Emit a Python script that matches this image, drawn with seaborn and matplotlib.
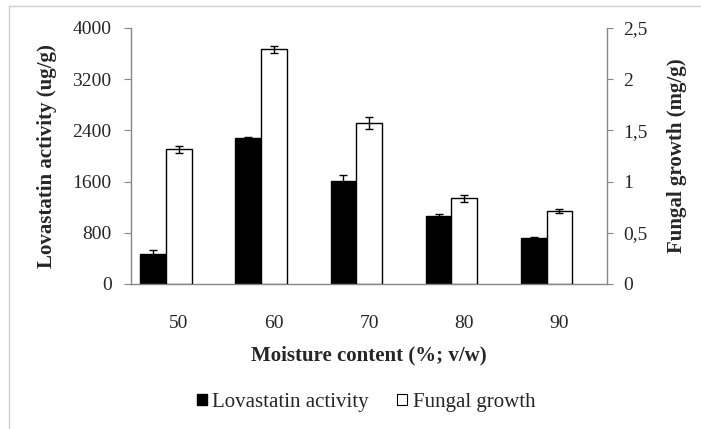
import pandas as pd
import seaborn as sns
import matplotlib.pyplot as plt
from matplotlib.lines import Line2D
from matplotlib.patches import Patch
from matplotlib.ticker import FuncFormatter

# values
moisture = ["50", "60", "70", "80", "90"]
lovastatin = [465, 2280, 1605, 1060, 720]
lovastatin_err = [70, 15, 90, 40, 20]
fungal = [1.315, 2.29, 1.57, 0.835, 0.71]
fungal_err = [0.035, 0.035, 0.06, 0.03, 0.02]
series = ["Lovastatin activity", "Fungal growth", "pad"]

sns.set_style("white")
plt.rcParams["font.family"] = ["Liberation Serif", "DejaVu Serif"]
axis_grey = "#868686"


def frame(vals, name):
    # every hue level present so the dodge slots stay fixed; others are zero
    rows = []
    for s in series:
        for m, v in zip(moisture, vals):
            rows.append({"moisture": m, "series": s, "value": v if s == name else 0.0})
    return pd.DataFrame(rows)


fig = plt.figure(figsize=(7.01, 4.29), dpi=100)
ax = fig.add_axes([0.187, 0.338, 0.679, 0.597])
ax2 = ax.twinx()

sns.barplot(data=frame(lovastatin, series[0]), x="moisture", y="value", hue="series",
            hue_order=series, order=moisture, palette=["black", "white", "white"],
            width=0.81, errorbar=None, edgecolor="black", linewidth=1.0, legend=False, ax=ax)
sns.barplot(data=frame(fungal, series[1]), x="moisture", y="value", hue="series",
            hue_order=series, order=moisture, palette=["black", "white", "white"],
            width=0.81, errorbar=None, edgecolor="black", linewidth=1.0, legend=False, ax=ax2)


def add_err(axis, vals, errs):
    bars = []
    for p in axis.patches:
        if p.get_height() > 0:
            bars.append(p)
        else:
            p.set_visible(False)
    bars = sorted(bars, key=lambda p: p.get_x())
    xs = [p.get_x() + p.get_width() / 2 for p in bars]
    axis.errorbar(xs, vals, yerr=errs, fmt="none", ecolor="black",
                  elinewidth=1.0, capsize=3, capthick=1.0, zorder=5)


add_err(ax, lovastatin, lovastatin_err)
add_err(ax2, fungal, fungal_err)

ax.set_xlim(-0.5, 4.5)
ax.set_ylim(0, 4000)
ax.set_yticks([0, 800, 1600, 2400, 3200, 4000])
ax2.set_ylim(0, 2.5)
ax2.set_yticks([0, 0.5, 1, 1.5, 2, 2.5])
ax2.yaxis.set_major_formatter(FuncFormatter(lambda v, p: ("%g" % v).replace(".", ",")))

ax.set_xticks(range(5))
ax.set_xticklabels(moisture)
ax.set_xticks([i - 0.5 for i in range(6)], minor=True)
ax.tick_params(axis="x", which="major", length=0, labelsize=14, pad=22.5)
ax.tick_params(axis="x", which="minor", length=4.5, color=axis_grey, direction="out")
ax.tick_params(axis="y", length=5, color=axis_grey, direction="out", labelsize=14, left=True, pad=9)
ax2.tick_params(axis="y", length=4.5, color=axis_grey, direction="out", labelsize=14, right=True, pad=7)

for a in (ax, ax2):
    a.spines["top"].set_visible(False)
    for s in ("left", "right", "bottom"):
        a.spines[s].set_color(axis_grey)
        a.spines[s].set_linewidth(1.0)
ax.spines["right"].set_visible(False)
ax2.spines["left"].set_visible(False)
ax2.spines["bottom"].set_visible(False)

ax.set_xlabel("Moisture content (%; v/w)", fontsize=15, fontweight="bold", labelpad=9.5)
ax.set_ylabel("Lovastatin activity (ug/g)", fontsize=15, fontweight="bold", labelpad=11)
ax2.set_ylabel("Fungal growth (mg/g)", fontsize=15, fontweight="bold", labelpad=14)

handles = [Patch(facecolor="black", edgecolor="black", label=series[0]),
           Patch(facecolor="white", edgecolor="black", linewidth=0.8, label=series[1])]
fig.legend(handles=handles, loc="center", bbox_to_anchor=(0.522, 0.062), ncol=2,
           frameon=False, fontsize=15, handlelength=0.5, handleheight=0.5,
           handletextpad=0.25, columnspacing=1.35)

# light frame of the chart area
fig.add_artist(Line2D([9 / 701, 9 / 701], [0, 1 - 6 / 429], color="#d0d0d0", lw=1.0))
fig.add_artist(Line2D([9 / 701, 1], [1 - 6 / 429, 1 - 6 / 429], color="#d0d0d0", lw=1.0))

fig.savefig("out.png", dpi=100)
